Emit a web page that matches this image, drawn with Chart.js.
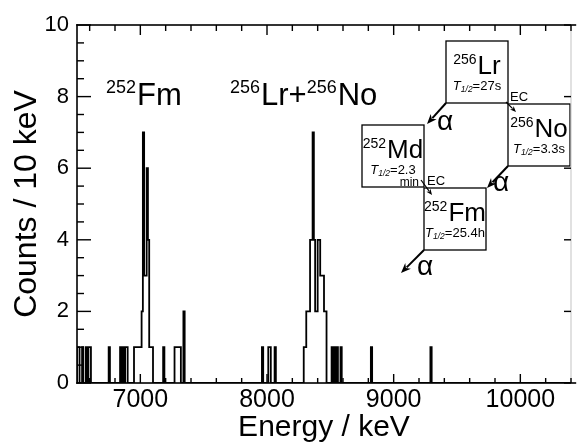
<!DOCTYPE html>
<html>
<head>
<meta charset="utf-8">
<script src="https://cdn.jsdelivr.net/npm/chart.js@4.4.1/dist/chart.umd.min.js"></script>
<style>
  html, body { margin: 0; padding: 0; background: #fff; }
  canvas { display: block; }
</style>
</head>
<body>
<canvas id="alphaCanvas" width="577" height="446"></canvas>
<script>
// 10 keV bins (start energy) that hold counts; every other bin is empty
const binEnergies = [
  6510, 6520, 6550, 6580, 6600, 6610, 6760, 6850, 6870, 6890, 6900,
  6960, 6970, 6980, 6990, 7000, 7010, 7020, 7030, 7040, 7050, 7060, 7070, 7080, 7090, 7100,
  7190, 7280, 7290, 7300, 7310, 7320, 7350,
  7970, 8020, 8030, 8070,
  8300, 8310, 8320, 8330, 8340, 8350, 8360, 8370, 8380, 8390, 8400,
  8410, 8420, 8430, 8440, 8450, 8460, 8470,
  8520, 8540, 8560, 8590, 8830, 9300
];
const binCounts = [
  1, 1, 1, 1, 1, 1, 1, 1, 1, 1, 1,
  1, 1, 1, 1, 1, 1, 2, 7, 3, 3, 6, 4, 1, 1, 1,
  1, 1, 1, 1, 1, 1, 2,
  1, 1, 1, 1,
  1, 1, 2, 2, 2, 4, 4, 7, 4, 2, 2,
  4, 4, 3, 3, 3, 2, 2,
  1, 1, 1, 1, 1, 1
];
const xRange = [6500, 10400];
const yRange = [0, 10];
const xTickLabels = [7000, 8000, 9000, 10000];
const yTickLabels = [0, 2, 4, 6, 8, 10];
const xMinorStep = 200;
const yMinorStep = 0.5;

const FONT = "'Liberation Sans', Arial, Helvetica, sans-serif";

// step outline over the whole range
const steps = [];
for (let e = xRange[0]; e <= xRange[1]; e += 10) {
  const i = binEnergies.indexOf(e);
  steps.push({ x: e, y: i >= 0 ? binCounts[i] : 0 });
}

function isotope(ctx, x, base, mass, sym, supPx, symPx) {
  ctx.font = supPx + 'px ' + FONT;
  ctx.textAlign = 'left';
  ctx.textBaseline = 'alphabetic';
  const w1 = ctx.measureText(mass).width;
  ctx.fillText(mass, x, base - symPx * 0.4);
  ctx.font = symPx + 'px ' + FONT;
  const w2 = ctx.measureText(sym).width;
  ctx.fillText(sym, x + w1 + 1, base);
  return w1 + 1 + w2;
}

function isoWidth(ctx, mass, sym, supPx, symPx) {
  ctx.font = supPx + 'px ' + FONT;
  const w1 = ctx.measureText(mass).width;
  ctx.font = symPx + 'px ' + FONT;
  return w1 + 1 + ctx.measureText(sym).width;
}

function halfLife(ctx, cx, base, val) {
  ctx.textBaseline = 'alphabetic';
  ctx.textAlign = 'left';
  ctx.font = 'italic 13px ' + FONT;
  const wT = ctx.measureText('T').width;
  ctx.font = 'italic 8.5px ' + FONT;
  const wS = ctx.measureText('1/2').width;
  ctx.font = '13px ' + FONT;
  const wV = ctx.measureText(val).width;
  let x = cx - (wT + wS + wV) / 2;
  ctx.font = 'italic 13px ' + FONT;
  ctx.fillText('T', x, base); x += wT;
  ctx.font = 'italic 8.5px ' + FONT;
  ctx.fillText('1/2', x, base + 2); x += wS;
  ctx.font = '13px ' + FONT;
  ctx.fillText(val, x, base);
}

function arrow(ctx, x1, y1, x2, y2, lw, hl, hw) {
  const ang = Math.atan2(y2 - y1, x2 - x1);
  const c = Math.cos(ang), s = Math.sin(ang);
  ctx.lineWidth = lw;
  ctx.beginPath();
  ctx.moveTo(x1, y1);
  ctx.lineTo(x2 - c * hl * 0.8, y2 - s * hl * 0.8);
  ctx.stroke();
  ctx.beginPath();
  ctx.moveTo(x2, y2);
  ctx.lineTo(x2 - c * hl + s * hw / 2, y2 - s * hl - c * hw / 2);
  ctx.lineTo(x2 - c * hl * 0.7, y2 - s * hl * 0.7);
  ctx.lineTo(x2 - c * hl - s * hw / 2, y2 - s * hl + c * hw / 2);
  ctx.closePath();
  ctx.fill();
}

function drawFrame(chart) {
  const ctx = chart.ctx;
  const a = chart.chartArea;
  const xs = chart.scales.x, ys = chart.scales.y;
  ctx.save();
  ctx.fillStyle = '#c4c4c4';
  ctx.fillRect(a.right - 0.5, a.top, 1, a.bottom - a.top);

  ctx.fillStyle = '#000';
  // frame: left, top, bottom
  ctx.fillRect(a.left - 0.8, a.top - 0.8, 1.6, a.bottom - a.top + 1.6);
  ctx.fillRect(a.left - 0.8, a.top - 0.8, a.right + 6 - a.left, 1.6);
  ctx.fillRect(a.left - 0.8, a.bottom - 0.8, a.right + 6 - a.left, 1.6);

  // inward ticks
  for (let v = Math.ceil(xRange[0] / xMinorStep) * xMinorStep; v <= xRange[1]; v += xMinorStep) {
    const tx = xs.getPixelForValue(v);
    const len = xTickLabels.includes(v) ? 9 : 5;
    ctx.fillRect(tx - 0.7, a.bottom - len, 1.4, len);
    ctx.fillRect(tx - 0.7, a.top, 1.4, len + 1);
  }
  for (let v = yRange[0]; v <= yRange[1]; v += yMinorStep) {
    const ty = ys.getPixelForValue(v);
    const major = yTickLabels.includes(v);
    ctx.fillRect(a.left, ty - 0.7, major ? 14 : 7, 1.4);
    if (major) ctx.fillRect(a.right - 7, ty - 0.7, 7, 1.4);
  }
  ctx.restore();
}

function drawScheme(chart) {
  const ctx = chart.ctx;
  const a = chart.chartArea;
  const L = a.left, T = a.top;
  ctx.save();
  ctx.fillStyle = '#000';
  ctx.strokeStyle = '#000';

  // peak labels
  isotope(ctx, L + 29, T + 80, '252', 'Fm', 18, 31);
  let lx = L + 153;
  lx += isotope(ctx, lx, T + 80, '256', 'Lr+', 18, 31);
  isotope(ctx, lx, T + 80, '256', 'No', 18, 31);

  // decay scheme boxes
  const S = 62;
  const boxes = [
    { x: 446, y: 41, mass: '256', sym: 'Lr', hl: '=27s' },
    { x: 508, y: 104, mass: '256', sym: 'No', hl: '=3.3s' },
    { x: 362, y: 125, mass: '252', sym: 'Md', hl: '=2.3' },
    { x: 424, y: 188, mass: '252', sym: 'Fm', hl: '=25.4h' }
  ];
  ctx.lineWidth = 1.3;
  boxes.forEach(b => {
    ctx.strokeRect(b.x, b.y, S, S);
    const w = isoWidth(ctx, b.mass, b.sym, 14, 26);
    isotope(ctx, b.x + S / 2 - w / 2, b.y + 33, b.mass, b.sym, 14, 26);
    halfLife(ctx, b.x + S / 2, b.y + 49, b.hl);
  });
  ctx.font = '12px ' + FONT;
  ctx.textAlign = 'right';
  ctx.fillText('min', 419, 186);

  ctx.textAlign = 'left';
  ctx.font = '13px ' + FONT;
  ctx.fillText('EC', 510, 101);
  ctx.fillText('EC', 427, 185);

  arrow(ctx, 446, 103, 427, 124, 2, 10, 8);
  arrow(ctx, 508, 166, 487, 188, 2, 10, 8);
  arrow(ctx, 424, 250, 401, 273, 2, 10, 8);
  arrow(ctx, 506, 102, 516, 112, 1.2, 6, 5);
  arrow(ctx, 421, 180, 432, 195, 1.2, 6, 5);

  ctx.font = '28px ' + FONT;
  ctx.fillText('\u03b1', 437, 130);
  ctx.fillText('\u03b1', 493, 191);
  ctx.fillText('\u03b1', 417, 275);
  ctx.restore();
}

const alphaCanvas = document.getElementById('alphaCanvas');
const alphaChart = new Chart(alphaCanvas, {
  type: 'line',
  data: {
    datasets: [{
      data: steps,
      stepped: 'after',
      borderColor: '#000',
      borderWidth: 1.8,
      pointRadius: 0,
      fill: false
    }]
  },
  options: {
    responsive: false,
    animation: false,
    layout: { padding: { top: 25, right: 6, left: 0, bottom: 0 } },
    plugins: { legend: { display: false }, tooltip: { enabled: false } },
    scales: {
      x: {
        type: 'linear',
        min: xRange[0],
        max: xRange[1],
        afterFit: s => { s.height = 63; },
        grid: { display: false, drawTicks: false },
        border: { display: false },
        ticks: {
          stepSize: 200,
          autoSkip: false,
          maxRotation: 0,
          padding: 2,
          color: '#000',
          font: { family: FONT, size: 25 },
          callback: v => xTickLabels.includes(v) ? String(v) : ''
        },
        title: {
          display: true,
          text: 'Energy / keV',
          color: '#000',
          font: { family: FONT, size: 30 },
          padding: { top: 0, bottom: 0 }
        }
      },
      y: {
        min: yRange[0],
        max: yRange[1],
        afterFit: s => { s.width = 77; },
        grid: { display: false, drawTicks: false },
        border: { display: false },
        ticks: {
          stepSize: 0.5,
          autoSkip: false,
          padding: 8,
          color: '#000',
          font: { family: FONT, size: 22 },
          callback: v => yTickLabels.includes(v) ? String(v) : ''
        },
        title: {
          display: true,
          text: 'Counts / 10 keV',
          color: '#000',
          font: { family: FONT, size: 32 },
          padding: { top: 8, bottom: 0 }
        }
      }
    }
  },
  plugins: [{
    id: 'frame',
    afterDraw(chart) {
      drawScheme(chart);
      drawFrame(chart);
    }
  }]
});
</script>
</body>
</html>
